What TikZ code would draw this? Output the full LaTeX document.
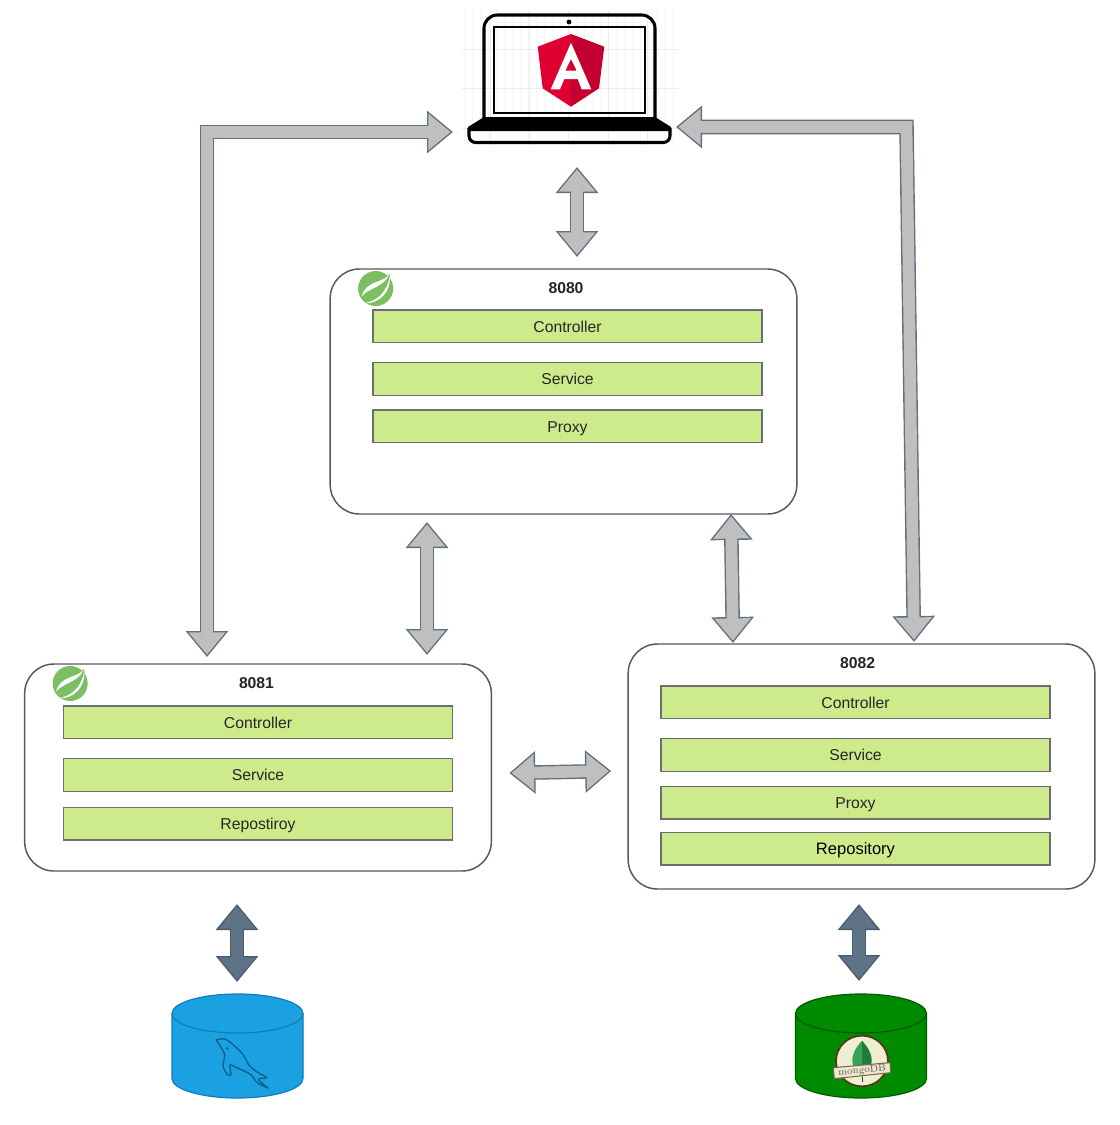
\documentclass[tikz,border=0pt]{standalone}
\usepackage{fontspec}
\setmainfont{Liberation Sans}
\usepackage{xcolor}
\usetikzlibrary{positioning, calc, arrows.meta}
\definecolor{barGreen}{HTML}{CDEB8B}
\definecolor{barEdge}{HTML}{6A6F73}
\definecolor{boxEdge}{HTML}{585858}
\definecolor{fatFill}{HTML}{BFBFBF}
\definecolor{fatEdge}{HTML}{5F7080}
\definecolor{darkFill}{HTML}{5F7386}
\definecolor{darkEdge}{HTML}{4A5D70}
\definecolor{mysqlBlue}{HTML}{1BA1E2}
\definecolor{mysqlEdge}{HTML}{0F7DB8}
\definecolor{mongoGreen}{HTML}{008A00}
\definecolor{mongoEdge}{HTML}{005A00}
\definecolor{springGreen}{HTML}{7CBE62}
\tikzset{
    fathead/.tip={Triangle[length=19.5pt, width=30.75pt]},
    fatinner/.tip={Triangle[length=16.75pt, width=26.4pt, sep=1.7pt]},
    springleaf/.pic={
        \fill[springGreen] (0,0) circle (17.5);
        \fill[springGreen] (0,-4) -- (14,-14.5) -- (15.5,0) -- cycle;
        \fill[white] (13.3,-13.6) .. controls (6,-5) and (-10,-8) .. (-14,8)
            .. controls (-7,-1) and (8,-1) .. (13.3,-13.6) -- cycle;
        \fill[white] (14.2,-12) .. controls (15,3) and (5,15) .. (-12,15)
            .. controls (3,12) and (11,3) .. (14.2,-12) -- cycle;
    },
    dbdrum/.pic={
        \path[pic actions] (-65.5,-32.5) -- (-65.5,32.5)
            arc[start angle=180, end angle=0, x radius=65.5, y radius=19.5]
            -- (65.5,-32.5)
            arc[start angle=0, end angle=-180, x radius=65.5, y radius=19.5] -- cycle;
        \path[pic actions, fill=none] (-65.5,-32.5)
            arc[start angle=180, end angle=0, x radius=65.5, y radius=19.5];
    }
}
\begin{document}
\begin{tikzpicture}[
    x=0.75pt, y=-0.75pt,
    font=\fontsize{11.8pt}{14pt}\selectfont,
    hostbox/.style={draw=boxEdge, fill=white, line width=1.1pt, rounded corners=22pt, minimum width=350pt, outer sep=0pt},
    layer/.style={draw=barEdge, fill=barGreen, line width=0.9pt, minimum width=291.75pt, minimum height=24.5pt, text height=8.5pt, text depth=0pt, inner sep=0pt, outer sep=0pt, text=black!85},
    port/.style={font=\fontsize{11.8pt}{14pt}\selectfont\bfseries, text=black!85, inner sep=0pt},
    dbstore/.style={minimum width=98pt, minimum height=78pt, outer sep=0pt, inner sep=0pt},
    fatarrow/.style n args={2}{preaction={draw=#1, line width=10.9pt, arrows={fathead-fathead}}, draw=#2, line width=8.8pt, arrows={fatinner-fatinner}},
    grayarrow/.style={fatarrow={fatEdge}{fatFill}},
    darkarrow/.style={fatarrow={darkEdge}{darkFill}}
]
\useasboundingbox (0,0) rectangle (1120,1125);

\node[minimum width=153pt, minimum height=97.5pt, inner sep=0pt, outer sep=0pt] (laptop) at (570,80) {};
\draw[black!3, line width=0.3pt, step=8] (462,10) grid (678,145);
\foreach \gx in {490,529,568,608,647} \draw[black!8, line width=0.4pt] (\gx,10) -- (\gx,145);
\foreach \gy in {49,88,128} \draw[black!8, line width=0.4pt] (462,\gy) -- (678,\gy);
\draw[line width=2.3pt, rounded corners=10pt] (484,118) -- (484,15) -- (655,15) -- (655,118);
\draw[line width=2pt] (494,27) rectangle (645,113);
\fill (569,22) circle (2.4);
\fill (484,117) -- (655,117) -- (671,127) -- (671,131) -- (468,131) -- (468,127) -- cycle;
\draw[line width=2.3pt, rounded corners=5pt] (469,128) -- (469,142.5) -- (670,142.5) -- (670,128);
\fill[fill={rgb,255:red,221;green,0;blue,49}] (571,34) -- (537.7,46.7) -- (542.7,88.3) -- (571,106.7) -- cycle;
\fill[fill={rgb,255:red,195;green,0;blue,47}] (571,34) -- (604.3,46.7) -- (599,88.3) -- (571,106.7) -- cycle;
\fill[white, even odd rule] (571,42.7) -- (550.7,89.3) -- (560,89.3) -- (564.3,79) -- (577.7,79) -- (581.7,89.3) -- (591.3,89.3) -- cycle
    (571,59) -- (565.3,70.7) -- (576.7,70.7) -- cycle;

\node[hostbox, minimum height=183.75pt] (main) at (563.5,391.5) {};
\node[hostbox, minimum height=155.25pt] (ordersHost) at (258,767.5) {};
\node[hostbox, minimum height=183.75pt] (usersHost) at (861.5,766.5) {};

\pic at ($(main.north west)+(45.5,19.5)$) {springleaf};
\pic at ($(ordersHost.north west)+(45.5,19.5)$) {springleaf};

\node[port] (mainPort) at ($(main.north)+(2.5,19)$) {8080};
\node[layer, below=30.75pt of main.north, xshift=3pt] (mainCtrl) {Controller};
\node[layer, below=15pt of mainCtrl] (mainSvc) {Service};
\node[layer, below=11pt of mainSvc] (mainProxy) {Proxy};

\node[port] (ordersPort) at ($(ordersHost.north)+(-1.5,19)$) {8081};
\node[layer, below=31.5pt of ordersHost.north] (ordersCtrl) {Controller};
\node[layer, below=15pt of ordersCtrl] (ordersSvc) {Service};
\node[layer, below=12pt of ordersSvc] (ordersRepo) {Repostiroy};

\node[port] (usersPort) at ($(usersHost.north)+(-4,19)$) {8082};
\node[layer, below=31.5pt of usersHost.north, xshift=-4.5pt] (usersCtrl) {Controller};
\node[layer, below=15pt of usersCtrl] (usersSvc) {Service};
\node[layer, below=11.25pt of usersSvc] (usersProxy) {Proxy};
\node[layer, below=10pt of usersProxy, text=black, font=\fontsize{12.4pt}{14pt}\selectfont] (usersRepo) {Repository};

\node[dbstore] (mysqlDb) at (237.5,1046) {};
\node[dbstore] (mongoDb) at (861,1046) {};
\pic[draw=mysqlEdge, fill=mysqlBlue, line width=0.9pt] at (mysqlDb) {dbdrum};
\pic[draw=mongoEdge, fill=mongoGreen, line width=0.9pt] at (mongoDb) {dbdrum};

\begin{scope}[shift={(150,980)}, x=0.25pt, y=-0.25pt]
\draw[draw={rgb,255:red,10;green,95;blue,130}, line width=1pt, line join=round]
    plot[smooth] coordinates {(198,180) (225,177) (250,195) (278,222) (297,255) (320,275) (350,293) (325,298) (355,325)}
    plot[smooth] coordinates {(355,325) (322,308) (300,282) (262,264) (240,255) (243,284) (232,283) (219,258) (224,225) (212,200) (198,180)};
\fill[fill={rgb,255:red,10;green,95;blue,130}] (232,205) circle (4);
\end{scope}

\begin{scope}[shift={(780,980)}, x=0.25pt, y=-0.25pt]
\draw[fill={rgb,255:red,240;green,238;blue,210}, draw={rgb,255:red,85;green,55;blue,25}, line width=1.3pt] (246,243) circle [x radius=78, y radius=76];
\fill[fill={rgb,255:red,50;green,165;blue,85}] (246,182) .. controls (225,205) and (208,232) .. (222,265) .. controls (230,280) and (240,285) .. (246,290) -- cycle;
\fill[fill={rgb,255:red,30;green,125;blue,60}] (246,182) .. controls (267,205) and (284,232) .. (270,265) .. controls (262,280) and (252,285) .. (246,290) -- cycle;
\draw[draw={rgb,255:red,85;green,55;blue,25}, line width=0.6pt] (246,290) -- (246,306);
\draw[fill={rgb,255:red,238;green,230;blue,205}, draw={rgb,255:red,120;green,105;blue,75}, line width=0.8pt] (160,263) -- (330,248) -- (332,278) -- (163,296) -- cycle;
\node[rotate=5, font=\fontfamily{lmr}\fontsize{7.3pt}{8pt}\selectfont, text=black!65, inner sep=0pt] (mongoMark) at (246,272) {mongoDB};
\end{scope}

\coordinate (rightBend) at (906.5,127);

\draw[grayarrow] ($(laptop.south)+(7,22)$) -- ($(main.north)+(13.5,-12)$);
\draw[grayarrow] ($(ordersHost.north)+(-51,-7)$) |- ($(laptop.west)+(-15,52)$);
\draw[grayarrow] ($(usersHost.north)+(52.5,-2)$) -- (rightBend) -- ($(laptop.east)+(4,47)$);
\draw[grayarrow] ($(main.south)+(-136.5,8)$) -- ($(ordersHost.north)+(169,-9)$);
\draw[grayarrow] ($(main.south)+(167.5,0)$) -- ($(usersHost.north)+(-128.5,-1)$);
\draw[grayarrow] ($(ordersHost.east)+(18,5.5)$) -- ($(usersHost.west)+(-17,4.5)$);
\draw[darkarrow] ($(ordersHost.south)+(-21,33)$) -- ($(mysqlDb.north)+(-0.5,-12)$);
\draw[darkarrow] ($(usersHost.south)+(-2.5,15)$) -- ($(mongoDb.north)+(-2,-13)$);

\end{tikzpicture}
\end{document}
